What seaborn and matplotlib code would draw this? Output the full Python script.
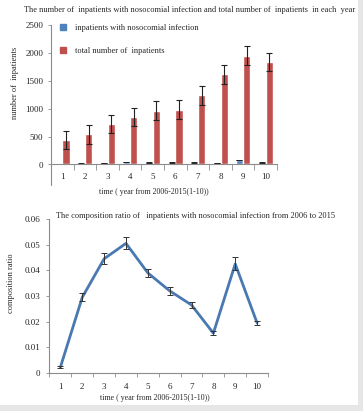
import numpy as np
import pandas as pd
import seaborn as sns
import matplotlib.pyplot as plt
from matplotlib.lines import Line2D
from matplotlib.patches import Rectangle

# values
years = [1, 2, 3, 4, 5, 6, 7, 8, 9, 10]
infected = [5, 15, 30, 43, 38, 32, 32, 24, 82, 38]
infected_err = [2, 3, 4, 4, 4, 4, 4, 4, 5, 4]
total = [440, 540, 720, 855, 965, 985, 1240, 1620, 1950, 1840]
total_err = [160, 170, 160, 165, 175, 175, 170, 170, 170, 160]
ratio = [0.0023, 0.0295, 0.0445, 0.0505, 0.039, 0.032, 0.0265, 0.0155, 0.0425, 0.0195]
ratio_err = [0.0003, 0.0015, 0.0022, 0.0023, 0.0017, 0.0015, 0.0012, 0.0008, 0.0025, 0.0009]
y1_ticks = [0, 500, 1000, 1500, 2000, 2500]
y2_ticks = [0, 0.01, 0.02, 0.03, 0.04, 0.05, 0.06]
y2_labels = ['0', '0.01', '0.02', '0.03', '0.04', '0.05', '0.06']

lab_inf = 'inpatients with nosocomial infection'
lab_tot = 'total number of  inpatients'
xlab = 'time ( year from 2006-2015(1-10))'

blue = '#4f81bd'
red = '#c0504d'
line_blue = '#4a78b0'
spine_c = '#8c8c8c'
fs = 6.5
fs_t = 6.0

sns.set_theme(style='white')
plt.rcParams['font.family'] = ['Liberation Serif', 'DejaVu Serif']

fig = plt.figure(figsize=(3.63, 4.11), dpi=100, facecolor='#e6e6e6')
fig.patches.append(Rectangle((0, 6 / 411), 358 / 363, 1, transform=fig.transFigure,
                             facecolor='white', edgecolor='none', zorder=-1))

# ---- top chart: bars ----
ax1 = fig.add_axes([51 / 363, 1 - 164.5 / 411, 226 / 363, 139.5 / 411])
df = pd.DataFrame({
    'year': years + years,
    'count': infected + total,
    'group': [lab_inf] * len(years) + [lab_tot] * len(years),
})
sns.barplot(data=df, x='year', y='count', hue='group', palette=[blue, red],
            width=0.64, errorbar=None, legend=False, saturation=1, ax=ax1)
bars = ax1.patches
xc = [p.get_x() + p.get_width() / 2 for p in bars]
ax1.errorbar(xc[:10], infected, yerr=infected_err, fmt='none', ecolor='#222222',
             elinewidth=0.7, capsize=2, capthick=0.7)
ax1.errorbar(xc[10:], total, yerr=total_err, fmt='none', ecolor='#222222',
             elinewidth=0.8, capsize=2, capthick=0.8)

ax1.set_ylim(0, 2500)
ax1.set_xlim(-0.5, 9.5)
ax1.set_yticks(y1_ticks)
ax1.set_xticks(range(10))
ax1.set_xticklabels(years)
ax1.set_xticks(np.arange(-0.5, 10, 1), minor=True)
ax1.tick_params(axis='y', left=True, direction='out', length=2.5, width=0.6,
                color=spine_c, pad=3, labelsize=fs)
ax1.tick_params(axis='x', which='major', length=0, pad=6, labelsize=fs)
ax1.tick_params(axis='x', which='minor', bottom=True, direction='out', length=4,
                width=0.6, color=spine_c)
ax1.set_xlabel('')
ax1.set_ylabel('')
for s in ['top', 'right']:
    ax1.spines[s].set_visible(False)
for s in ['left', 'bottom']:
    ax1.spines[s].set_color(spine_c)
    ax1.spines[s].set_linewidth(0.8)
ax1.add_line(Line2D([0, 0], [0, -0.147], transform=ax1.transAxes, color=spine_c,
                    lw=0.8, clip_on=False))

handles = [Line2D([], [], marker='s', ls='none', color=blue, markersize=4.5),
           Line2D([], [], marker='s', ls='none', color=red, markersize=4.5)]
ax1.legend(handles, [lab_inf, lab_tot], loc='upper left', bbox_to_anchor=(0.02, 1.03),
           frameon=False, fontsize=fs_t, handlelength=1.0, handletextpad=0.9,
           labelspacing=1.8, borderaxespad=0)

fig.text(190 / 363, 1 - 10 / 411,
         'The number of  inpatients with nosocomial infection and total number of  inpatients  in each  year',
         ha='center', va='center', fontsize=fs_t)
fig.text(154 / 363, 1 - 192 / 411, xlab, ha='center', va='center', fontsize=5.7)
fig.text(15 / 363, 1 - 83 / 411, 'number of  inpatients', rotation=90,
         ha='center', va='center', fontsize=fs_t)

# ---- bottom chart: ratio line ----
ax2 = fig.add_axes([49.5 / 363, 1 - 373 / 411, 218.5 / 363, 154 / 411])
sns.lineplot(x=years, y=ratio, color=line_blue, lw=2, ax=ax2)
ax2.errorbar(years, ratio, yerr=ratio_err, fmt='none', ecolor='#333333',
             elinewidth=0.7, capsize=2, capthick=0.7)
ax2.set_ylim(0, 0.06)
ax2.set_xlim(0.5, 10.5)
ax2.set_yticks(y2_ticks)
ax2.set_yticklabels(y2_labels)
ax2.set_xticks(years)
ax2.set_xticks(np.arange(0.5, 11, 1), minor=True)
ax2.tick_params(axis='y', left=True, direction='out', length=2.5, width=0.6,
                color=spine_c, pad=4, labelsize=fs)
ax2.tick_params(axis='x', which='major', length=0, pad=7, labelsize=fs)
ax2.tick_params(axis='x', which='minor', bottom=True, direction='out', length=3,
                width=0.6, color=spine_c)
for s in ['top', 'right']:
    ax2.spines[s].set_visible(False)
for s in ['left', 'bottom']:
    ax2.spines[s].set_color(spine_c)
    ax2.spines[s].set_linewidth(0.8)

fig.text(196 / 363, 1 - 216 / 411,
         'The composition ratio of   inpatients with nosocomial infection from 2006 to 2015',
         ha='center', va='center', fontsize=fs_t)
fig.text(155 / 363, 1 - 398 / 411, xlab, ha='center', va='center', fontsize=5.7)
fig.text(11.5 / 363, 1 - 283 / 411, 'composition ratio', rotation=90,
         ha='center', va='center', fontsize=fs_t)

fig.savefig('out.png', dpi=100, facecolor=fig.get_facecolor())
